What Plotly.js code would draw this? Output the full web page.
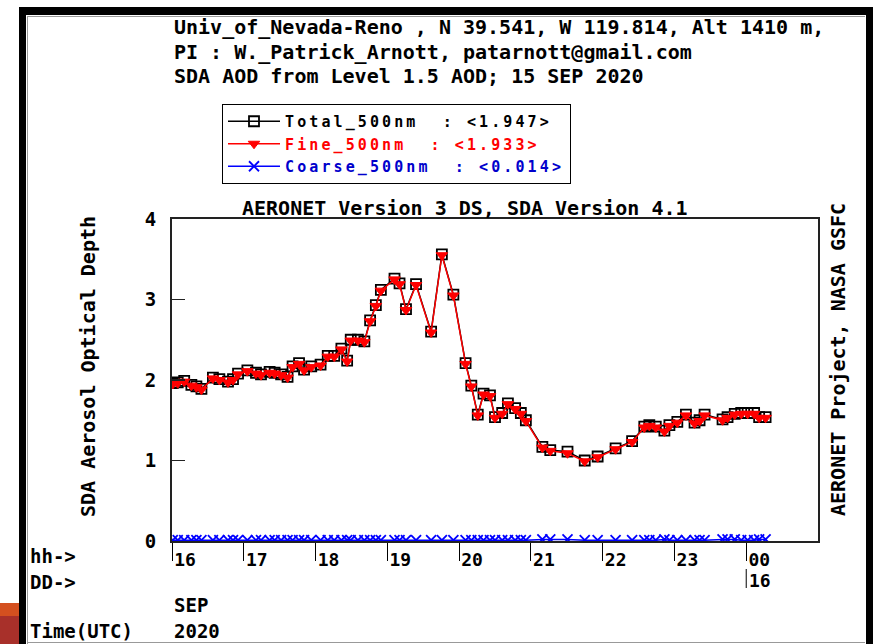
<!DOCTYPE html>
<html>
<head>
<meta charset="utf-8">
<script src="https://cdn.plot.ly/plotly-3.0.1.min.js"></script>
<style>
html,body{margin:0;padding:0;background:#fff;}
#chart{width:873px;height:644px;}
.legendtext{letter-spacing:3.1px;}
</style>
</head>
<body>
<div id="chart"></div>
<script>
// ---- data (hours UTC, 15 SEP 2020) ----
const hours = [16.01,16.08,16.17,16.27,16.34,16.41,16.57,16.66,16.78,16.85,16.92,17.05,17.17,17.24,17.36,17.43,17.52,17.61,17.68,17.77,17.84,17.94,18.07,18.17,18.26,18.36,18.44,18.49,18.59,18.68,18.76,18.84,18.91,19.10,19.17,19.26,19.40,19.61,19.76,19.92,20.09,20.17,20.26,20.34,20.43,20.50,20.60,20.68,20.78,20.86,20.93,21.16,21.27,21.51,21.75,21.93,22.18,22.41,22.58,22.65,22.74,22.86,22.93,23.04,23.16,23.28,23.35,23.42,23.67,23.74,23.84,23.93,24.02,24.11,24.18,24.27];
const totalAOD = [1.96,1.97,1.99,1.94,1.92,1.89,2.03,2.01,1.98,2.01,2.08,2.12,2.09,2.07,2.10,2.09,2.07,2.04,2.17,2.21,2.13,2.17,2.19,2.30,2.30,2.39,2.24,2.50,2.50,2.48,2.74,2.93,3.12,3.26,3.20,2.88,3.19,2.60,3.56,3.06,2.21,1.93,1.57,1.83,1.81,1.54,1.59,1.71,1.65,1.59,1.50,1.17,1.13,1.11,1.00,1.05,1.15,1.24,1.42,1.44,1.42,1.37,1.44,1.48,1.57,1.47,1.50,1.57,1.51,1.54,1.58,1.59,1.59,1.59,1.54,1.54];
const fineAOD = [1.95,1.96,1.98,1.93,1.91,1.88,2.02,2.00,1.97,2.00,2.07,2.11,2.08,2.06,2.09,2.08,2.06,2.03,2.16,2.20,2.12,2.16,2.18,2.29,2.29,2.38,2.23,2.49,2.49,2.47,2.73,2.92,3.11,3.25,3.19,2.87,3.18,2.59,3.55,3.05,2.20,1.92,1.56,1.82,1.80,1.53,1.58,1.70,1.64,1.58,1.49,1.16,1.12,1.09,0.99,1.04,1.14,1.23,1.41,1.43,1.41,1.36,1.43,1.47,1.56,1.46,1.49,1.56,1.50,1.53,1.57,1.58,1.58,1.58,1.53,1.53];
const coarseAOD = [0.01,0.01,0.01,0.01,0.01,0.01,0.01,0.01,0.01,0.01,0.01,0.01,0.01,0.01,0.01,0.01,0.01,0.01,0.01,0.01,0.01,0.01,0.01,0.01,0.01,0.01,0.01,0.01,0.01,0.01,0.01,0.01,0.01,0.01,0.01,0.01,0.01,0.01,0.01,0.01,0.01,0.01,0.01,0.01,0.01,0.01,0.01,0.01,0.01,0.01,0.01,0.02,0.02,0.02,0.01,0.01,0.01,0.01,0.01,0.01,0.01,0.02,0.01,0.01,0.01,0.01,0.01,0.01,0.02,0.02,0.02,0.01,0.01,0.01,0.02,0.02];
const seriesNames = ['Total_500nm', 'Fine_500nm', 'Coarse_500nm'];
const seriesMeans = ['1.947', '1.933', '0.014'];
const hourTickVals = [16,17,18,19,20,21,22,23,24];
const hourTickText = ['16','17','18','19','20','21','22','23','00'];
const yTickVals = [0,1,2,3,4];
const headerLines = [
  'Univ_of_Nevada-Reno , N 39.541, W 119.814, Alt 1410 m,',
  'PI : W._Patrick_Arnott, patarnott@gmail.com',
  'SDA AOD from Level 1.5 AOD; 15 SEP 2020'
];
const plotTitle = 'AERONET Version 3 DS, SDA Version 4.1';
const yTitle = 'SDA Aerosol Optical Depth';
const rightTitle = 'AERONET Project, NASA GSFC';
const dayLabel = '16';
const monthLabel = 'SEP';
const yearLabel = '2020';

// ---- layout helpers (pixel -> paper) ----
const L = 172, R = 818, T = 219, B = 541;
const px = v => (v - L) / (R - L);
const py = v => (B - v) / (B - T);
const FONT = 'DejaVu Sans Mono';
const f = (size, color) => ({family: FONT, size: size, color: color || '#000', weight: 'bold'});
const sp = '\u00A0\u00A0';

const traces = [
  {x: hours, y: totalAOD, type: 'scatter', mode: 'lines+markers',
   name: seriesNames[0] + sp + ': &lt;' + seriesMeans[0] + '&gt;',
   line: {color: '#000', width: 1.5},
   marker: {symbol: 'square-open', size: 10, color: '#000', line: {width: 1.8, color: '#000'}}},
  {x: hours, y: fineAOD, type: 'scatter', mode: 'lines+markers',
   name: '<span style="color:#ff0000">' + seriesNames[1] + sp + ': &lt;' + seriesMeans[1] + '&gt;</span>',
   line: {color: '#ff0000', width: 1.5},
   marker: {symbol: 'triangle-down', size: 10, color: '#ff0000', line: {width: 1, color: '#ff0000'}}},
  {x: hours, y: coarseAOD, type: 'scatter', mode: 'lines+markers',
   name: '<span style="color:#0000cc">' + seriesNames[2] + sp + ': &lt;' + seriesMeans[2] + '&gt;</span>',
   line: {color: '#0000ff', width: 1.5},
   marker: {symbol: 'x-thin-open', size: 10, color: '#0000ff', line: {width: 1.8, color: '#0000ff'}}}
];

const ann = [];
headerLines.forEach((t, i) => ann.push({text: t, xref: 'paper', yref: 'paper', x: px(172), y: py([27, 52, 76][i]),
  xanchor: 'left', yanchor: 'middle', showarrow: false, font: f(20)}));
ann.push({text: plotTitle, xref: 'paper', yref: 'paper', x: px(465), y: py(208), xanchor: 'center', yanchor: 'middle', showarrow: false, font: f(20)});
ann.push({text: yTitle, xref: 'paper', yref: 'paper', x: px(88), y: py(367), textangle: -90, xanchor: 'center', yanchor: 'middle', showarrow: false, font: f(20)});
ann.push({text: rightTitle, xref: 'paper', yref: 'paper', x: px(838), y: py(360), textangle: -90, xanchor: 'center', yanchor: 'middle', showarrow: false, font: f(20)});
ann.push({text: 'hh-&gt;', xref: 'paper', yref: 'paper', x: px(28), y: py(556), xanchor: 'left', yanchor: 'middle', showarrow: false, font: f(19)});
ann.push({text: 'DD-&gt;', xref: 'paper', yref: 'paper', x: px(28), y: py(582), xanchor: 'left', yanchor: 'middle', showarrow: false, font: f(19)});
ann.push({text: 'Time(UTC)', xref: 'paper', yref: 'paper', x: px(28), y: py(631), xanchor: 'left', yanchor: 'middle', showarrow: false, font: f(19)});
ann.push({text: monthLabel, xref: 'paper', yref: 'paper', x: px(172), y: py(605), xanchor: 'left', yanchor: 'middle', showarrow: false, font: f(19)});
ann.push({text: yearLabel, xref: 'paper', yref: 'paper', x: px(172), y: py(631), xanchor: 'left', yanchor: 'middle', showarrow: false, font: f(19)});
ann.push({text: dayLabel, xref: 'x', yref: 'paper', x: hourTickVals[8], y: py(580), xanchor: 'left', yanchor: 'middle', xshift: 1, showarrow: false, font: f(18)});

const shapes = [
  {type: 'rect', xref: 'paper', yref: 'paper', x0: px(19), x1: px(873), y0: py(7), y1: py(15), fillcolor: '#000', line: {width: 0}},
  {type: 'rect', xref: 'paper', yref: 'paper', x0: px(19), x1: px(26), y0: py(7), y1: py(644), fillcolor: '#000', line: {width: 0}},
  {type: 'rect', xref: 'paper', yref: 'paper', x0: px(866), x1: px(873), y0: py(7), y1: py(644), fillcolor: '#000', line: {width: 0}},
  {type: 'line', xref: 'paper', yref: 'paper', x0: px(27.5), x1: px(27.5), y0: py(16), y1: py(644), line: {color: '#999', width: 1}},
  {type: 'line', xref: 'paper', yref: 'paper', x0: px(27), x1: px(865), y0: py(16.5), y1: py(16.5), line: {color: '#999', width: 1}},
  {type: 'line', xref: 'paper', yref: 'paper', x0: px(27), x1: px(865), y0: py(642.5), y1: py(642.5), line: {color: '#999', width: 1}},
  {type: 'rect', xref: 'paper', yref: 'paper', x0: px(0), x1: px(19), y0: py(603), y1: py(616), fillcolor: '#d4501f', line: {width: 0}},
  {type: 'rect', xref: 'paper', yref: 'paper', x0: px(0), x1: px(19), y0: py(616), y1: py(644), fillcolor: '#a8302a', line: {width: 0}},
  {type: 'line', xref: 'x', yref: 'paper', x0: hourTickVals[8], x1: hourTickVals[8], y0: py(569), y1: py(588), line: {color: '#000', width: 1}}
];

const layout = {
  width: 873, height: 644,
  margin: {l: L, r: 873 - R, t: T, b: 644 - B, pad: 0},
  paper_bgcolor: '#fff', plot_bgcolor: '#fff',
  showlegend: true,
  legend: {x: px(222), y: py(104), xanchor: 'left', yanchor: 'top', bgcolor: '#fff', bordercolor: '#000', borderwidth: 1,
    font: f(15), itemwidth: 52, tracegroupgap: 0},
  xaxis: {range: [16, 25], tickvals: hourTickVals, ticktext: hourTickText, ticks: 'outside', ticklen: 18, tickwidth: 1, tickcolor: '#000',
    ticklabelstandoff: -17, ticklabelshift: 13, showgrid: false, zeroline: false, showline: true, linecolor: '#222', linewidth: 2, mirror: true,
    tickfont: f(18)},
  yaxis: {range: [0, 4], tickvals: yTickVals, ticks: 'inside', ticklen: 13, tickwidth: 1.5, tickcolor: '#222',
    ticklabelstandoff: 10, showgrid: false, zeroline: false, showline: true, linecolor: '#222', linewidth: 2, mirror: true,
    tickfont: f(19)},
  annotations: ann,
  shapes: shapes
};

Plotly.newPlot('chart', traces, layout, {displayModeBar: false, staticPlot: true});
</script>
</body>
</html>
